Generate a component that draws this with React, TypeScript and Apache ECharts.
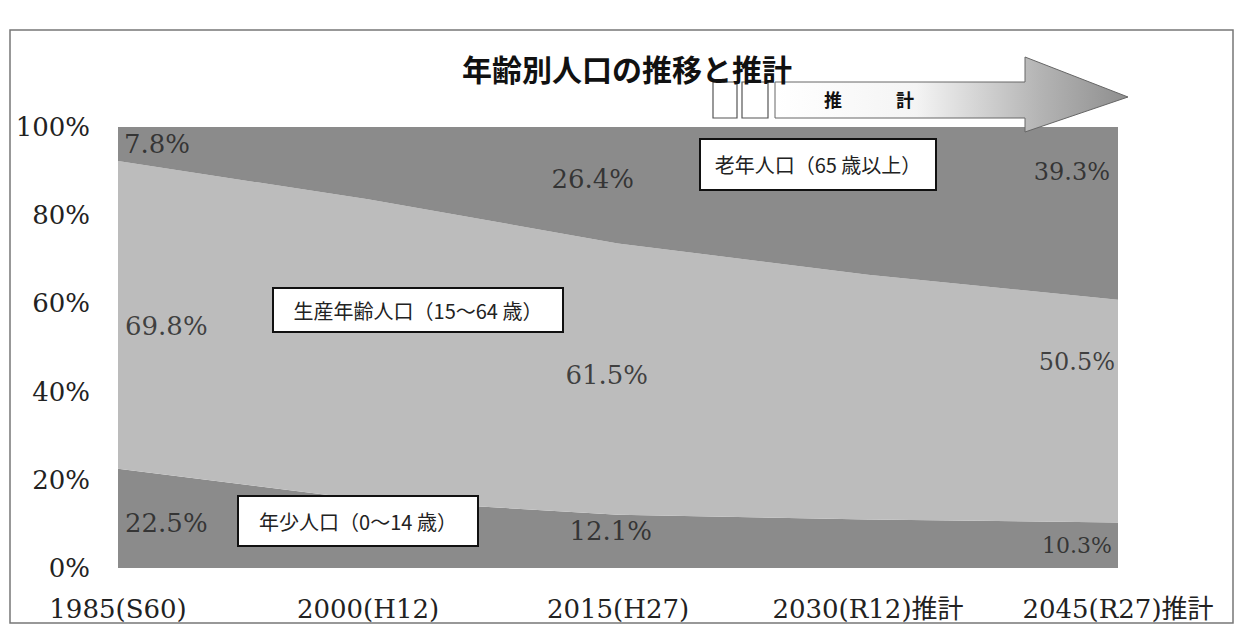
import React, { useEffect, useRef } from "react";
import * as echarts from "echarts";

// ---- data ----
const years = ["1985(S60)", "2000(H12)", "2015(H27)", "2030(R12)推計", "2045(R27)推計"];
const young = [22.5, 15.4, 12.1, 11.0, 10.3]; // 年少人口（0～14歳）
const working = [69.8, 68.2, 61.5, 55.5, 50.5]; // 生産年齢人口（15～64歳）
const elderly = [7.8, 16.4, 26.4, 33.5, 39.3]; // 老年人口（65歳以上）
const yTicks = [0, 20, 40, 60, 80, 100];

// which points carry a printed value label
const labelled = [0, 2, 4];

const DARK = "#8b8b8b";
const LIGHT = "#bcbcbc";
const SERIF = "'DejaVu Serif', 'Noto Sans CJK JP', serif";
const JP = "'Noto Sans CJK JP', sans-serif";

// label anchor heights (in axis %) and horizontal placement for the value labels
const labelLayout = {
  elderly: { y: [96.2, 0, 88.3, 0, 89.8], align: ["left", "", "right", "", "right"], dx: [6, 0, 16, 0, -8], size: [26, 0, 26, 0, 24] },
  working: { y: [54.9, 0, 43.7, 0, 46.7], align: ["left", "", "right", "", "right"], dx: [7, 0, 30, 0, -3], size: [26, 0, 26, 0, 24] },
  young: { y: [10.2, 0, 8.5, 0, 5.2], align: ["left", "", "right", "", "right"], dx: [7, 0, 34, 0, -6], size: [26, 0, 26, 0, 22] },
};

function labelItems(values: number[], lay: { y: number[]; align: string[]; dx: number[]; size: number[] }) {
  return labelled.map((i) => ({
    value: [i, lay.y[i]],
    label: {
      show: true,
      formatter: `${values[i].toFixed(1)}%`,
      position: "inside",
      align: lay.align[i],
      verticalAlign: "middle",
      offset: [lay.dx[i], 0],
      fontFamily: SERIF,
      fontSize: lay.size[i],
      color: "#1e1e1e",
    },
  }));
}

function boxGraphic(x: number, y: number, w: number, h: number, text: string) {
  return [
    { type: "rect", z: 100, shape: { x, y, width: w, height: h }, style: { fill: "#ffffff", stroke: "#111", lineWidth: 2 } },
    {
      type: "text",
      z: 101,
      x: x + w / 2,
      y: y + h / 2,
      style: { text, fontFamily: JP, fontSize: 20, fill: "#222", align: "center", verticalAlign: "middle" },
    },
  ];
}

export default function App() {
  const ref = useRef<HTMLDivElement>(null);

  useEffect(() => {
    if (!ref.current) return;
    const chart = echarts.init(ref.current, null, { renderer: "svg" });

    const areaBase = {
      type: "line",
      stack: "total",
      showSymbol: false,
      symbol: "none",
      lineStyle: { width: 0 },
      emphasis: { disabled: true },
    };

    chart.setOption({
      animation: false,
      backgroundColor: "#ffffff",
      grid: { left: 118, right: 120, top: 127, bottom: 72, containLabel: false },
      xAxis: {
        type: "category",
        data: years,
        boundaryGap: false,
        axisLine: { show: false },
        axisTick: { show: false },
        splitLine: { show: false },
        axisLabel: { interval: 0, margin: 28, fontFamily: SERIF, fontSize: 26, color: "#222" },
      },
      yAxis: {
        type: "value",
        min: yTicks[0],
        max: yTicks[yTicks.length - 1],
        interval: 20,
        axisLine: { show: false },
        axisTick: { show: false },
        splitLine: { show: false },
        axisLabel: { margin: 28, formatter: "{value}%", fontFamily: SERIF, fontSize: 26, color: "#222" },
      },
      series: [
        { ...areaBase, name: "年少人口（0～14歳）", data: young, areaStyle: { color: DARK, opacity: 1 }, itemStyle: { color: DARK } },
        { ...areaBase, name: "生産年齢人口（15～64歳）", data: working, areaStyle: { color: LIGHT, opacity: 1 }, itemStyle: { color: LIGHT } },
        { ...areaBase, name: "老年人口（65歳以上）", data: elderly, areaStyle: { color: DARK, opacity: 1 }, itemStyle: { color: DARK } },
        {
          type: "scatter",
          symbolSize: 0,
          silent: true,
          z: 10,
          data: [
            ...labelItems(elderly, labelLayout.elderly),
            ...labelItems(working, labelLayout.working),
            ...labelItems(young, labelLayout.young),
          ],
        },
      ],
      graphic: [
        // outer frame
        { type: "rect", z: 0, shape: { x: 10, y: 30, width: 1223, height: 593 }, style: { fill: "none", stroke: "#777", lineWidth: 1.5 } },
        // title
        {
          type: "text",
          z: 100,
          x: 462,
          y: 68,
          style: { text: "年齢別人口の推移と推計", fontFamily: JP, fontWeight: "bold", fontSize: 30, fill: "#111", align: "left", verticalAlign: "middle" },
        },
        // forecast arrow
        {
          type: "polygon",
          z: 90,
          shape: { points: [[775, 82], [1025, 82], [1025, 57], [1128, 97], [1025, 132], [1025, 118], [775, 118]] },
          style: {
            fill: new echarts.graphic.LinearGradient(0, 0, 1, 0, [
              { offset: 0, color: "#ffffff" },
              { offset: 0.4, color: "#f4f4f4" },
              { offset: 0.75, color: "#b4b4b4" },
              { offset: 1, color: "#8e8e8e" },
            ]),
            stroke: "#666",
            lineWidth: 1,
          },
        },
        { type: "rect", z: 90, shape: { x: 713, y: 82, width: 24, height: 36 }, style: { fill: "#fff", stroke: "#555", lineWidth: 1.2 } },
        { type: "rect", z: 90, shape: { x: 742, y: 82, width: 26, height: 36 }, style: { fill: "#fff", stroke: "#555", lineWidth: 1.2 } },
        { type: "text", z: 100, x: 833, y: 99, style: { text: "推", fontFamily: JP, fontWeight: "bold", fontSize: 18, fill: "#111", align: "center", verticalAlign: "middle" } },
        { type: "text", z: 100, x: 905, y: 99, style: { text: "計", fontFamily: JP, fontWeight: "bold", fontSize: 18, fill: "#111", align: "center", verticalAlign: "middle" } },
        // series annotation boxes
        ...boxGraphic(700, 139, 236, 51, "老年人口（65 歳以上）"),
        ...boxGraphic(273, 288, 290, 44, "生産年齢人口（15～64 歳）"),
        ...boxGraphic(238, 496, 240, 50, "年少人口（0～14 歳）"),
      ],
    });

    return () => chart.dispose();
  }, []);

  return (
    <div
      ref={ref}
      style={{ position: "fixed", left: 0, top: 0, width: 1238, height: 640, background: "#fff" }}
    />
  );
}
